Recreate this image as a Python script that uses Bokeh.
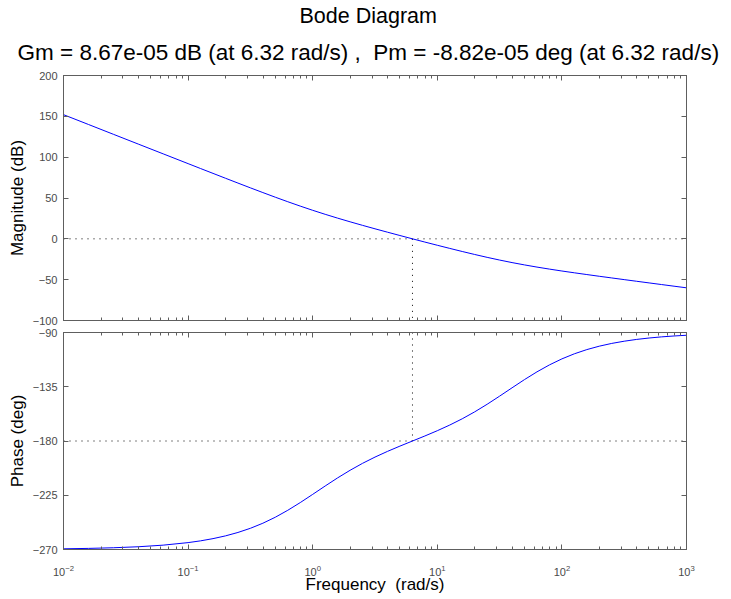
from bokeh.plotting import figure
from bokeh.layouts import column
from bokeh.models import FixedTicker, LinearAxis, LogAxis, Title
from bokeh.embed import file_html
from bokeh.resources import INLINE

# ---- data ----
freq = [0.01, 0.015849, 0.025119, 0.039811, 0.063096, 0.1, 0.12589, 0.15849, 0.19953, 0.25119,
        0.31623, 0.39811, 0.50119, 0.63096, 0.79433, 1.0, 1.2589, 1.5849, 1.9953, 2.5119,
        3.1623, 3.9811, 5.0119, 6.3096, 7.9433, 10.0, 12.589, 15.849, 19.953, 25.119,
        31.623, 39.811, 50.119, 63.096, 79.433, 100.0, 125.89, 158.49, 199.53, 251.19,
        316.23, 398.11, 501.19, 630.96, 794.33, 1000.0]
mag_db = [152.04, 140.04, 128.04, 116.04, 104.05, 92.08, 86.10, 80.14, 74.20, 68.29,
          62.43, 56.65, 50.97, 45.43, 40.08, 34.94, 30.03, 25.34, 20.85, 16.50,
          12.28, 8.14, 4.07, 0.04, -3.94, -7.86, -11.72, -15.50, -19.16, -22.67,
          -25.98, -29.08, -31.94, -34.59, -37.06, -39.39, -41.60, -43.74, -45.84, -47.90,
          -49.93, -51.96, -53.97, -55.98, -57.99, -59.99]
phase_deg = [-269.43, -269.09, -268.56, -267.72, -266.39, -264.29, -262.82, -260.99, -258.70, -255.87,
             -252.41, -248.21, -243.23, -237.48, -231.09, -224.27, -217.33, -210.59, -204.29, -198.53,
             -193.34, -188.62, -184.24, -180.04, -175.84, -171.47, -166.76, -161.57, -155.83, -149.54,
             -142.80, -135.87, -129.05, -122.64, -116.88, -111.88, -107.67, -104.19, -101.35, -99.05,
             -97.22, -95.74, -94.57, -93.62, -92.88, -92.29]
w_cross = 6.32
mag_ticks = [-100, -50, 0, 50, 100, 150, 200]
phase_ticks = [-270, -225, -180, -135, -90]
decades = [0.01, 0.1, 1, 10, 100, 1000]
minor = [m * d for d in decades[:-1] for m in range(2, 10)]

title1 = "Bode Diagram"
title2 = "Gm = 8.67e-05 dB (at 6.32 rad/s) ,\u00a0 Pm = -8.82e-05 deg (at 6.32 rad/s)"
xlabel = "Frequency\u00a0 (rad/s)"

FONT = "Liberation Sans"
FRAME = "#5e5e5e"
LABEL = "#4a4a4a"
W = 723
LEFT = 63
FW = 623


def style_axis(ax, show_labels):
    ax.major_tick_in = 5
    ax.major_tick_out = 0
    ax.minor_tick_in = 3
    ax.minor_tick_out = 0
    ax.axis_line_color = FRAME
    ax.major_tick_line_color = FRAME
    ax.minor_tick_line_color = FRAME
    ax.major_label_text_font = FONT
    ax.major_label_text_color = LABEL
    if show_labels:
        ax.major_label_text_font_size = "11px"
        ax.major_label_standoff = 6
    else:
        ax.major_label_text_font_size = "1px"
        ax.major_label_text_alpha = 0
        ax.major_label_standoff = 0
    ax.axis_label_text_font = FONT
    ax.axis_label_text_font_style = "normal"
    ax.axis_label_text_font_size = "17px"
    ax.axis_label_text_color = "black"


def make_fig(yr, yticks, fh, top, bottom, ylabel, xlabels, xlab):
    p = figure(width=W, height=top + fh + bottom, x_axis_type="log", x_range=(0.01, 1000),
               y_range=yr, output_backend="svg", toolbar_location=None,
               x_axis_location=None, y_axis_location=None,
               min_border_left=LEFT, min_border_right=W - LEFT - FW,
               min_border_top=top, min_border_bottom=bottom)
    p.frame_width = FW
    p.frame_height = fh
    p.grid.visible = False
    p.outline_line_color = FRAME
    p.background_fill_color = "white"
    p.border_fill_color = "white"
    xt = FixedTicker(ticks=decades, minor_ticks=minor)
    yt = FixedTicker(ticks=yticks)
    bx = LogAxis(ticker=xt)
    style_axis(bx, xlabels)
    if xlabels:
        bx.major_label_standoff = 15
        bx.axis_label = xlab
        bx.axis_label_standoff = -4
    tx = LogAxis(ticker=xt)
    style_axis(tx, False)
    ly = LinearAxis(ticker=yt, axis_label=ylabel)
    style_axis(ly, True)
    ly.minor_tick_in = 0
    ly.axis_label_standoff = 3
    ry = LinearAxis(ticker=yt)
    style_axis(ry, False)
    ry.minor_tick_in = 0
    p.add_layout(bx, "below")
    p.add_layout(tx, "above")
    p.add_layout(ly, "left")
    p.add_layout(ry, "right")
    return p


p1 = make_fig((-100, 200), mag_ticks, 245, 75, 6, "Magnitude (dB)", False, None)
p1.add_layout(Title(text=title2, align="left", offset=-46, text_font=FONT, text_font_size="22.5px",
                    text_font_style="normal", text_color="black", standoff=22), "above")
p1.add_layout(Title(text=title1, align="left", offset=236, text_font=FONT, text_font_size="21.5px",
                    text_font_style="normal", text_color="black", standoff=-3), "above")
p1.line([0.01, 1000], [0, 0], line_color="black", line_dash="1 5", line_width=1)
p1.line([w_cross, w_cross], [0, -100], line_color="black", line_dash="1 5", line_width=1)
p1.line(freq, mag_db, line_color="#0000ff", line_width=1)

p2 = make_fig((-270, -90), phase_ticks, 217, 6, 44, "Phase (deg)", True, xlabel)
p2.line([0.01, 1000], [-180, -180], line_color="black", line_dash="1 5", line_width=1)
p2.line([w_cross, w_cross], [-90, -180], line_color="black", line_dash="1 5", line_width=1)
p2.line(freq, phase_deg, line_color="#0000ff", line_width=1)

layout = column(p1, p2, spacing=0)
open("out.html", "w").write(file_html(layout, INLINE))
